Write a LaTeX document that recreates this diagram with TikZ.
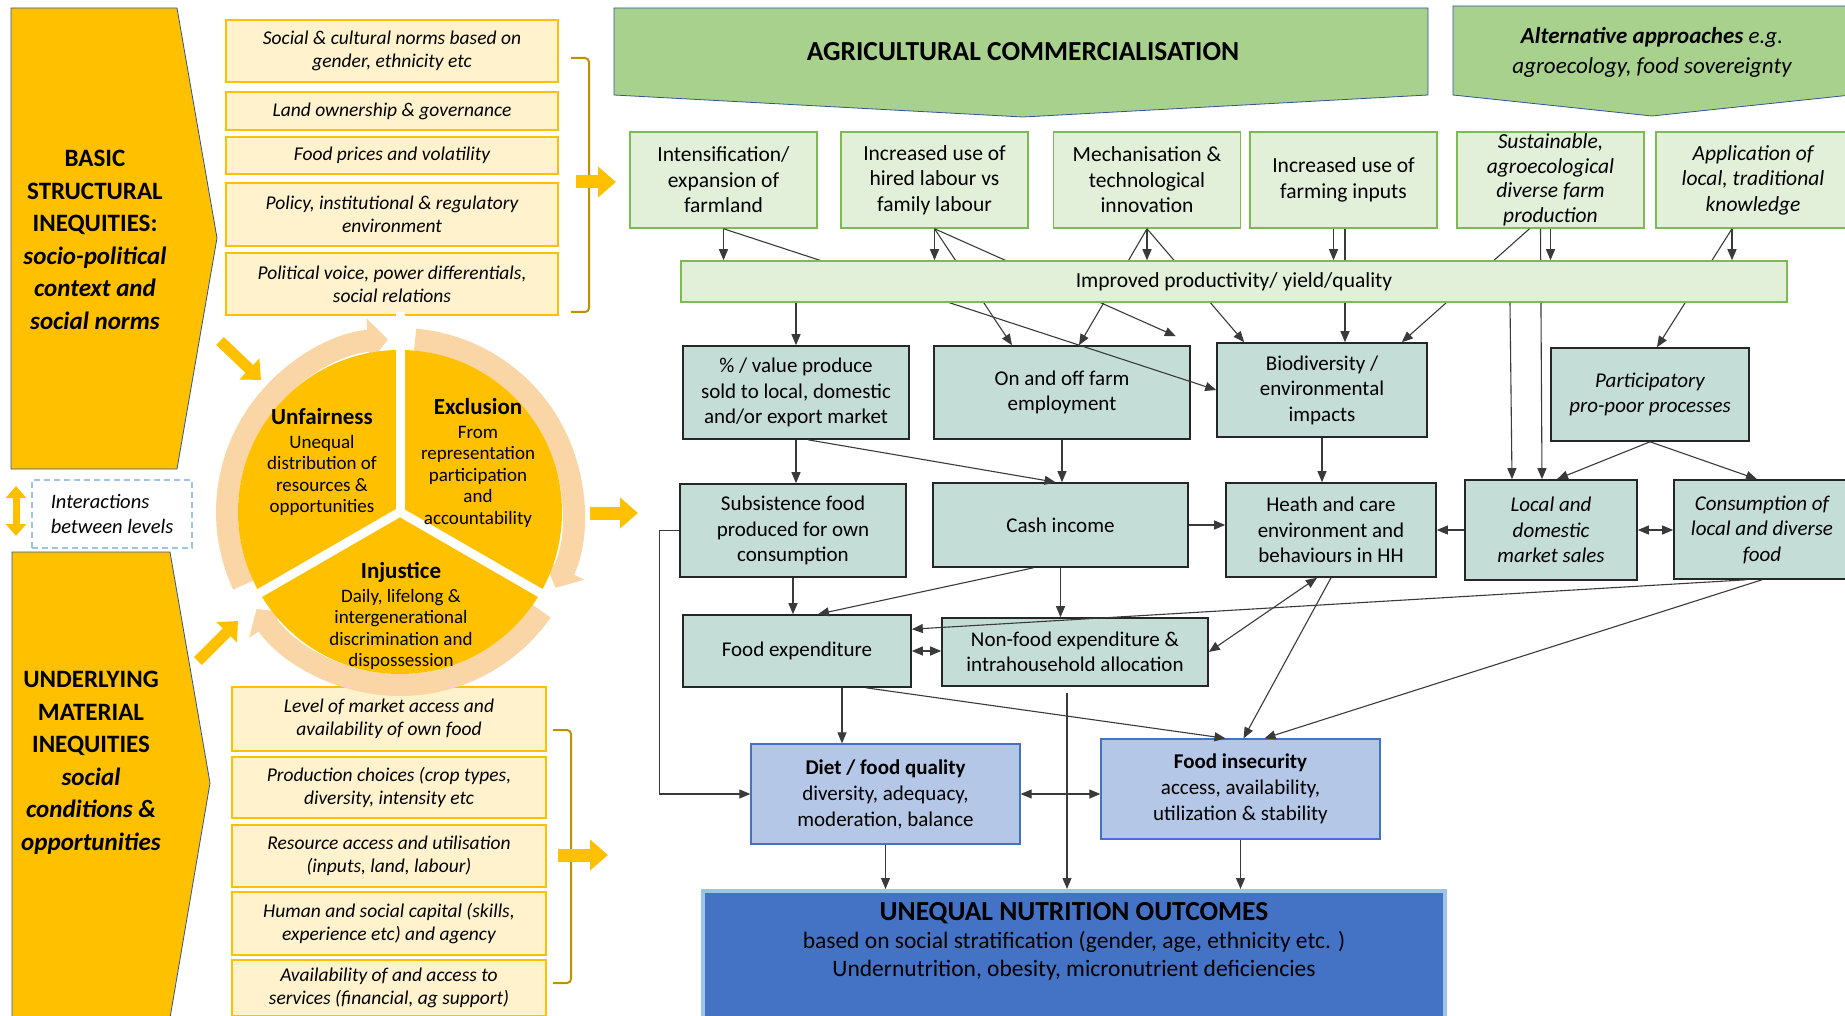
\documentclass[tikz,border=0pt]{standalone}
\usepackage{fontspec}
\setmainfont{Carlito}
\usetikzlibrary{arrows.meta}

\definecolor{ochre}{HTML}{FFC000}
\definecolor{cream}{HTML}{FFF2CC}
\definecolor{bracketgold}{HTML}{BF9000}
\definecolor{peach}{HTML}{FAD5A5}
\definecolor{leaf}{HTML}{A9D18E}
\definecolor{paleleaf}{HTML}{E2F0D9}
\definecolor{leafline}{HTML}{7DBA55}
\definecolor{sage}{HTML}{C4DDD7}
\definecolor{paleblue}{HTML}{B4C7E7}
\definecolor{midblue}{HTML}{4472C4}
\definecolor{edgeblue}{HTML}{2F5597}
\definecolor{skyline}{HTML}{9DC3E6}
\definecolor{wire}{HTML}{3A3A3A}

\begin{document}
\begin{tikzpicture}[x=1pt, y=-1pt,
    wh/.style 2 args={minimum width=#1pt, minimum height=#2pt},
    shelf/.style={draw=edgeblue, line width=0.8pt},
    ybox/.style={draw=ochre, line width=1.5pt, fill=cream, align=center, inner sep=1pt,
      font=\fontsize{19.5}{23}\selectfont\itshape},
    gbox/.style={draw=leafline, line width=1.5pt, fill=paleleaf, align=center, inner sep=1pt,
      wh={187}{96}, font=\fontsize{21.5}{25.5}\selectfont},
    tbox/.style={draw=black!85, line width=1.6pt, fill=sage, align=center, inner sep=1pt,
      font=\fontsize{21}{25.5}\selectfont},
    bbox/.style={draw=midblue, line width=1.3pt, fill=paleblue, align=center, inner sep=1pt,
      font=\fontsize{21}{26}\selectfont},
    arrow/.style={draw=wire, line width=1.1pt, -{Triangle[length=11pt,width=9pt]}},
    twoway/.style={draw=wire, line width=1.1pt, {Triangle[length=11pt,width=9pt]}-{Triangle[length=11pt,width=9pt]}},
    fat/.style={ochre, line width=13pt, -{Triangle[length=18pt,width=30pt]}},
    ring/.style={peach, line width=22pt, -{Triangle[length=20pt,width=44pt]}}
  ]
  \useasboundingbox (0,0) rectangle (1845,1016);
  \clip (0,0) rectangle (1845,1016);

  % left column
  \draw[shelf, fill=ochre] (11,8) -- (177,8) -- (217,238) -- (177,469) -- (11,469) -- cycle;
  \draw[shelf, fill=ochre] (12,552) -- (170,552) -- (210,783) -- (170,1018) -- (12,1018) -- cycle;
  \node[align=center, font=\fontsize{25}{32.5}\selectfont\bfseries] (basic) at (95,240)
    {BASIC\\STRUCTURAL\\INEQUITIES:\\\textit{socio-political}\\\textit{context and}\\\textit{social norms}};
  \node[align=center, font=\fontsize{25}{32.5}\selectfont\bfseries] (underlying) at (91,763)
    {UNDERLYING\\MATERIAL\\INEQUITIES\\\textit{social}\\\textit{conditions \&}\\\textit{opportunities}};

  \node[ybox, wh={332}{62}] (norms) at (392,51) {Social \& cultural norms based on\\gender, ethnicity etc};
  \node[ybox, wh={332}{38}] (land) at (392,111) {Land ownership \& governance};
  \node[ybox, wh={332}{37}] (prices) at (392,155.5) {Food prices and volatility};
  \node[ybox, wh={332}{63}] (policy) at (392,214.5) {Policy, institutional \& regulatory\\environment};
  \node[ybox, wh={332}{62}] (voice) at (392,284) {Political voice, power differentials,\\social relations};
  \node[ybox, wh={314}{64}] (access) at (389,719) {Level of market access and\\availability of own food};
  \node[ybox, wh={314}{61}] (choices) at (389,787.5) {Production choices (crop types,\\diversity, intensity etc};
  \node[ybox, wh={314}{62}] (resources) at (389,856) {Resource access and utilisation\\(inputs, land, labour)};
  \node[ybox, wh={314}{63}] (capital) at (389,923.5) {Human and social capital (skills,\\experience etc) and agency};
  \node[ybox, wh={314}{56}] (services) at (389,988) {Availability of and access to\\services (financial, ag support)};

  \draw[bracketgold, line width=2pt, rounded corners=4pt] (571,58) -- (589,58) -- (589,312) -- (571,312);
  \draw[bracketgold, line width=2pt, rounded corners=4pt] (553,730) -- (571,730) -- (571,983) -- (553,983);

  \draw[fat] (576,182) -- (616,182);
  \draw[fat] (590,513) -- (638,513);
  \draw[fat] (558,855) -- (608,855);
  \draw[fat, line width=11pt, -{Triangle[length=16pt,width=28pt]}] (220,341) -- (261,380);
  \draw[fat, line width=11pt, -{Triangle[length=16pt,width=28pt]}] (198,661) -- (238,621);
  \draw[ochre, line width=7pt, {Triangle[length=12pt,width=20pt]}-{Triangle[length=12pt,width=20pt]}] (16,486) -- (16,536);

  \node[draw=skyline, dash pattern=on 6pt off 4pt, line width=1.3pt, wh={160}{68}, align=left,
    font=\fontsize{20.5}{25.5}\selectfont\itshape] (levels) at (112,514) {Interactions\\between levels};

  % cycle of inequity
  \begin{scope}[shift={(400,512)}, y=1pt]
    \foreach \a/\b in {205/94, 85/-26, -35/-146}
      \draw[ring] (\a:173) arc[start angle=\a, end angle=\b, radius=173];
    \fill[ochre] (0,0) circle[radius=162];
    \foreach \g in {90,210,330}
      \draw[white, line width=9pt] (0,0) -- (\g:200);
  \end{scope}
  \node[align=center, font=\fontsize{19}{21.5}\selectfont] (unfair) at (322,462)
    {{\fontsize{23}{26}\selectfont\bfseries Unfairness}\\[2pt]Unequal\\distribution of\\resources \&\\opportunities};
  \node[align=center, font=\fontsize{19}{21.5}\selectfont] (exclusion) at (478,463)
    {{\fontsize{23}{26}\selectfont\bfseries Exclusion}\\[2pt]From\\representation\\participation\\and\\accountability};
  \node[align=center, font=\fontsize{19}{21.5}\selectfont] (injustice) at (401,616)
    {{\fontsize{23}{26}\selectfont\bfseries Injustice}\\[2pt]Daily, lifelong \&\\intergenerational\\discrimination and\\dispossession};

  % pathways
  \draw[shelf, fill=leaf] (614,8) -- (1428,8) -- (1428,95) -- (1023,117) -- (614,95) -- cycle;
  \draw[shelf, fill=leaf] (1453,6) -- (1851,6) -- (1851,95) -- (1652,116) -- (1453,95) -- cycle;
  \node[font=\fontsize{27.5}{30}\selectfont\bfseries] (commerce) at (1023,52) {AGRICULTURAL COMMERCIALISATION};
  \node[align=center, font=\fontsize{23}{30}\selectfont\itshape] (alternative) at (1652,52)
    {\textbf{Alternative approaches} e.g.\\agroecology, food sovereignty};

  \node[gbox] (intens) at (723.5,180) {Intensification/\\expansion of\\farmland};
  \node[gbox] (hired) at (934.5,180) {Increased use of\\hired labour vs\\family labour};
  \node[gbox] (mech) at (1147,180) {Mechanisation \&\\technological\\innovation};
  \node[gbox] (inputs) at (1343.5,180) {Increased use of\\farming inputs};
  \node[gbox, font=\fontsize{21.5}{24.5}\selectfont\itshape, inner sep=0pt] (sustain) at (1550.5,180)
    {Sustainable,\\agroecological\\diverse farm\\production};
  \node[gbox, wh={194}{96}, font=\fontsize{21.5}{25.5}\selectfont\itshape] (knowl) at (1753,180)
    {Application of\\local, traditional\\knowledge};

  \node[tbox, wh={226}{93}] (market) at (796,392.5) {\% / value produce\\sold to local, domestic\\and/or export market};
  \node[tbox, wh={256}{93}] (employ) at (1062,392.5) {On and off farm\\employment};
  \node[tbox, wh={210}{94}] (biodiv) at (1322,390) {Biodiversity /\\environmental\\impacts};
  \node[tbox, wh={198}{93}, font=\fontsize{21}{25.5}\selectfont\itshape] (partic) at (1650,394.5)
    {Participatory\\pro-poor processes};
  \node[tbox, wh={226}{93}] (subsist) at (793,530.5) {Subsistence food\\produced for own\\consumption};
  \node[tbox, wh={255}{84}] (cash) at (1060.5,525) {Cash income};
  \node[tbox, wh={210}{94}] (health) at (1331,530) {Heath and care\\environment and\\behaviours in HH};
  \node[tbox, wh={172}{100}, font=\fontsize{21}{25.5}\selectfont\itshape] (localsales) at (1551,530)
    {Local and\\domestic\\market sales};
  \node[tbox, wh={176}{99}, font=\fontsize{21}{25.5}\selectfont\itshape] (consume) at (1762,529.5)
    {Consumption of\\local and diverse\\food};
  \node[tbox, wh={228}{72}] (foodexp) at (797,651) {Food expenditure};
  \node[tbox, wh={266}{68}] (nonfood) at (1075,652) {Non-food expenditure \&\\intrahousehold allocation};

  \node[bbox, wh={269}{100}] (diet) at (885.5,794) {\textbf{Diet / food quality}\\diversity, adequacy,\\moderation, balance};
  \node[bbox, wh={279}{100}] (insecure) at (1240.5,789) {\textbf{Food insecurity}\\access, availability,\\utilization \& stability};
  \node[draw=skyline, line width=4pt, fill=midblue, wh={742}{150}, anchor=north] (outcome) at (1074,889) {};
  \node[align=center, font=\fontsize{23.5}{27.5}\selectfont] (outcometext) at (1074,941)
    {{\fontsize{27.5}{31}\selectfont\bfseries UNEQUAL NUTRITION OUTCOMES}\\[1pt]based on social stratification (gender, age, ethnicity etc. )\\Undernutrition, obesity, micronutrient deficiencies};

  % links that pass behind the productivity bar
  \draw[arrow] (intens.south) -- (biodiv.west);
  \draw[arrow] (hired.south) -- ([xshift=-50pt]employ.north);
  \draw[arrow] (hired.south) -- ([xshift=-15pt,yshift=9pt]employ.north east);
  \draw[arrow] (mech.south) -- ([xshift=17pt]employ.north);
  \draw[arrow] (mech.south) -- ([xshift=28pt]biodiv.north west);
  \draw[arrow] ([xshift=1.5pt]inputs.south) -- ([xshift=1.5pt]inputs.south |- biodiv.north);
  \draw[arrow] ([xshift=-21pt]sustain.south) -- ([xshift=-26pt]biodiv.north east);
  \draw[arrow] ([xshift=-10pt]sustain.south) -- ([xshift=-9pt]localsales.north);
  \draw[arrow] ([xshift=-21pt]knowl.south) -- ([xshift=7pt]partic.north);

  \node[gbox, wh={1106}{41}, font=\fontsize{21.5}{25}\selectfont] (bar) at (1234,281.5) {Improved productivity/ yield/quality};

  \foreach \n in {intens,hired,mech,sustain}
    \draw[arrow] (\n.south) -- (\n.south |- bar.north);
  \draw[arrow] ([xshift=-10pt]inputs.south) -- ([xshift=-10pt]inputs.south |- bar.north);
  \draw[arrow] ([xshift=-21pt]knowl.south) -- ([xshift=-21pt]knowl.south |- bar.north);
  \draw[arrow] (market.north |- bar.south) -- (market.north);
  \draw[arrow] ([xshift=-41pt]localsales.north |- bar.south) -- ([xshift=-39pt]localsales.north);

  \draw[arrow] (market.south) -- (market.south |- subsist.north);
  \draw[arrow] ([xshift=12pt]market.south) -- ([xshift=-5pt]cash.north);
  \draw[arrow] (employ.south) -- (employ.south |- cash.north);
  \draw[arrow] (biodiv.south) -- (biodiv.south |- health.north);
  \draw[arrow] (cash.east) -- (cash.east -| health.west);
  \draw[arrow] (localsales.west) -- (localsales.west -| health.east);
  \draw[twoway] (localsales.east) -- (localsales.east -| consume.west);
  \draw[arrow] (partic.south) -- ([xshift=6pt]localsales.north);
  \draw[arrow] (partic.south) -- ([xshift=-5pt]consume.north);

  \draw[arrow] (subsist.south) -- (subsist.south |- foodexp.north);
  \draw[arrow] ([xshift=-27pt]cash.south) -- ([xshift=21pt]foodexp.north);
  \draw[arrow] (cash.south) -- (cash.south |- nonfood.north);
  \draw[arrow] (subsist.west) -- ++(-20,0) |- (diet.west);
  \draw[arrow] ([xshift=-16pt]consume.south) -- ([yshift=-15pt]foodexp.north east);
  \draw[arrow] (consume.south) -- ([xshift=24pt]insecure.north);
  \draw[arrow] (health.south) -- ([xshift=3pt]insecure.north);
  \draw[twoway] ([xshift=-14pt]health.south) -- (nonfood.east);
  \draw[twoway] (foodexp.east) -- (foodexp.east -| nonfood.west);

  \draw[arrow] ([xshift=45pt]foodexp.south) -- ([xshift=45pt]foodexp.south |- diet.north);
  \draw[arrow] ([xshift=69pt]foodexp.south) -- ([xshift=-15pt]insecure.north);
  \draw[arrow] ([xshift=-8pt,yshift=-6pt]nonfood.south) -- ([xshift=-8pt]nonfood.south |- outcome.north);
  \draw[twoway] (diet.east) -- (diet.east -| insecure.west);
  \draw[arrow] (diet.south) -- (diet.south |- outcome.north);
  \draw[arrow] (insecure.south) -- (insecure.south |- outcome.north);
\end{tikzpicture}
\end{document}
